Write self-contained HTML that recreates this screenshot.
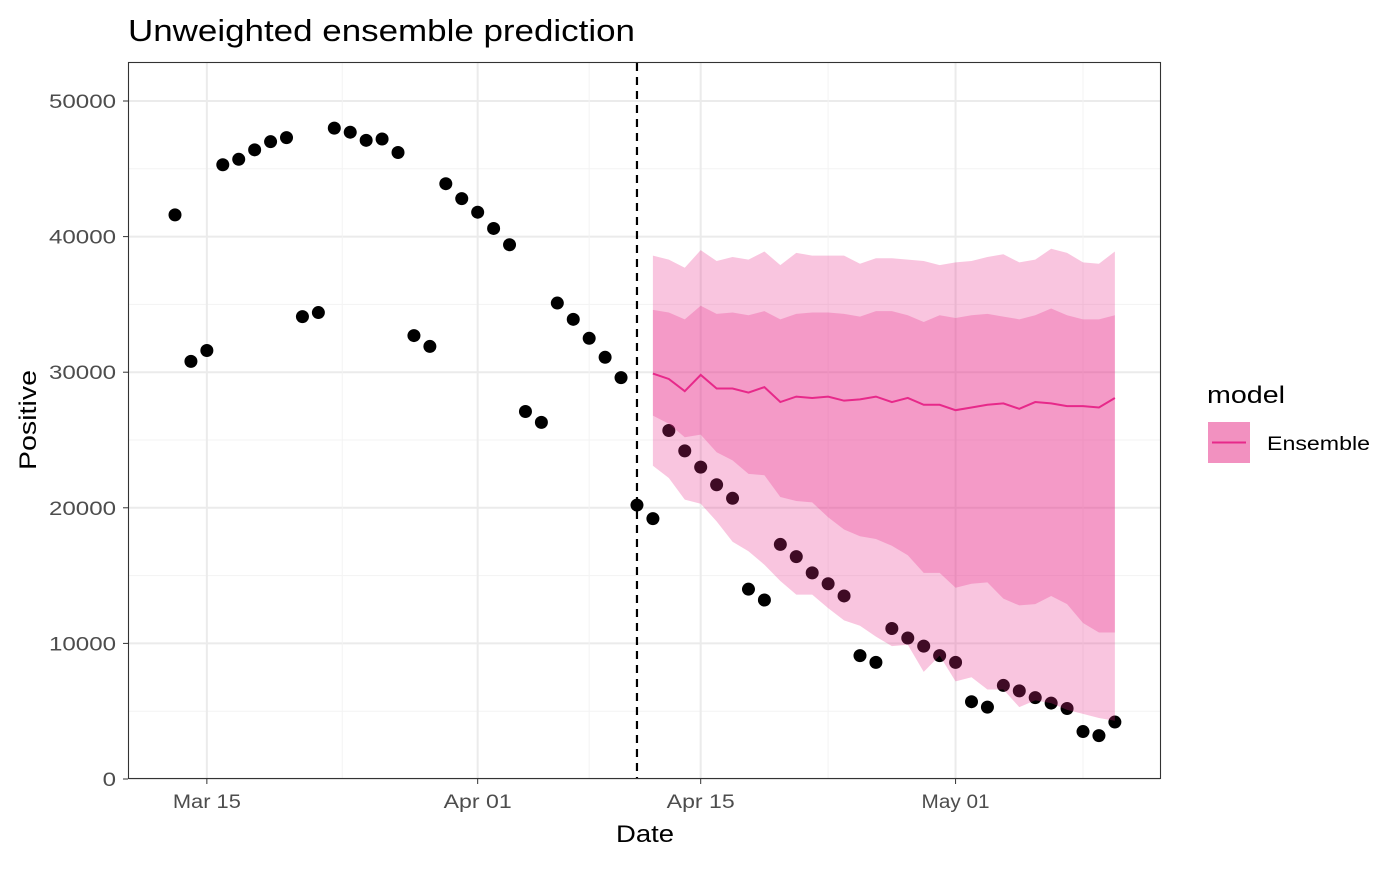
<!DOCTYPE html>
<html><head><meta charset="utf-8"><style>
body{margin:0;background:#fff;font-family:"Liberation Sans",sans-serif}
svg text{font-family:"Liberation Sans",sans-serif}
</style></head><body>
<svg id="c" width="1400" height="865" viewBox="0 0 1400 865" xmlns="http://www.w3.org/2000/svg">
<rect width="1400" height="865" fill="#fff"/>
<text x="128" y="41" font-size="31" textLength="507" lengthAdjust="spacingAndGlyphs" fill="#000">Unweighted ensemble prediction</text>
<g id="grid"></g>
<g id="pts"></g>
<g id="bands"></g>
<rect x="128.5" y="62.5" width="1032" height="716" fill="none" stroke="#333" stroke-width="1.1"/>
<g id="axes"></g>
<text x="616" y="842" font-size="24" textLength="58" lengthAdjust="spacingAndGlyphs">Date</text>
<text transform="translate(36,470) rotate(-90)" font-size="24" textLength="100" lengthAdjust="spacingAndGlyphs">Positive</text>
<g>
<text x="1207" y="403" font-size="24" textLength="78" lengthAdjust="spacingAndGlyphs">model</text>
<rect x="1208" y="422" width="42" height="41" fill="#f291c0"/>
<line x1="1212" y1="442.5" x2="1246" y2="442.5" stroke="#e7298a" stroke-width="2"/>
<text x="1267" y="450" font-size="19" textLength="103" lengthAdjust="spacingAndGlyphs">Ensemble</text>
</g>
</svg>
<script>
const obsValues=[41600,30800,31600,45300,45700,46400,47000,47300,34100,34400,48000,47700,47100,47200,46200,32700,31900,43900,42800,41800,40600,39400,27100,26300,35100,33900,32500,31100,29600,20200,19200,25700,24200,23000,21700,20700,14000,13200,17300,16400,15200,14400,13500,9100,8600,11100,10400,9800,9100,8600,5700,5300,6900,6500,6000,5600,5200,3500,3200,4200];
const fcStart=30;
const median=[29900,29500,28600,29800,28800,28800,28500,28900,27800,28200,28100,28200,27900,28000,28200,27800,28100,27600,27600,27200,27400,27600,27700,27300,27800,27700,27500,27500,27400,28100];
const outerUpper=[38600,38300,37700,39000,38200,38500,38300,38900,37900,38800,38600,38600,38600,38000,38400,38400,38300,38200,37900,38100,38200,38500,38700,38100,38300,39100,38800,38100,38000,38900];
const innerUpper=[34600,34400,33900,34900,34300,34400,34200,34500,33900,34300,34400,34400,34300,34100,34500,34500,34200,33700,34200,34000,34200,34300,34100,33900,34200,34700,34200,33900,33900,34200];
const innerLower=[26800,26200,25200,25400,24100,23500,22500,22400,20800,20500,20400,19300,18400,17900,17700,17200,16500,15200,15200,14100,14400,14500,13300,12800,12900,13500,12900,11500,10800,10800];
const outerLower=[23100,22200,20600,20300,19000,17500,16800,15800,14600,13600,13600,12600,11700,11300,10500,9800,9900,7900,9100,7200,7500,6600,6600,5300,5800,5600,5100,4800,4500,4300];
const yTicks=[0,10000,20000,30000,40000,50000];
const xTickDays=[2,19,33,49];
const xTickLabels=["Mar 15","Apr 01","Apr 15","May 01"];
const cutoffDay=29;

const NS="http://www.w3.org/2000/svg";
const X=d=>175+d*15.93;
const Y=v=>779-v*0.01356;
function mk(t,a,p){const e=document.createElementNS(NS,t);for(const k in a)e.setAttribute(k,a[k]);p.appendChild(e);return e;}
const grid=document.getElementById('grid'),axes=document.getElementById('axes');
for(let i=0;i<yTicks.length;i++){
  const g=mk('line',{x1:129,x2:1160,y1:Y(yTicks[i]),y2:Y(yTicks[i]),stroke:'#ebebeb','stroke-width':2},grid);
  
  
  if(i<yTicks.length-1){const m=mk('line',{x1:129,x2:1160,y1:Y(yTicks[i]+5000),y2:Y(yTicks[i]+5000),stroke:'#f3f3f3','stroke-width':1},grid);
  
  }
  mk('line',{x1:123,x2:128,y1:Y(yTicks[i]),y2:Y(yTicks[i]),stroke:'#333'},axes);
  const s=String(yTicks[i]);
  const t=mk('text',{x:116,y:Y(yTicks[i])+7,'font-size':19,fill:'#4d4d4d','text-anchor':'end',textLength:s.length*13.4,lengthAdjust:'spacingAndGlyphs'},axes);
  t.textContent=s;
  
  
}
for(let i=0;i<xTickDays.length;i++){
  const x=X(xTickDays[i]);
  const g=mk('line',{x1:x,x2:x,y1:63,y2:778,stroke:'#ebebeb','stroke-width':2},grid);
  
  
  const nx=i<xTickDays.length-1?(x+X(xTickDays[i+1]))/2:x+(x-X(xTickDays[i-1]))/2;
  const m=mk('line',{x1:nx,x2:nx,y1:63,y2:778,stroke:'#f3f3f3','stroke-width':1},grid);
  
  
  mk('line',{x1:x,x2:x,y1:779,y2:784,stroke:'#333'},axes);
  const t=mk('text',{x:x-34,y:808,'font-size':19,fill:'#4d4d4d',textLength:68,lengthAdjust:'spacingAndGlyphs'},axes);
  t.textContent=xTickLabels[i];
  
  
}
const pts=document.getElementById('pts');
obsValues.forEach((v,i)=>{const c=mk('circle',{cx:X(i),cy:Y(v),r:6.5,fill:'#000'},pts);
  
  });
const bands=document.getElementById('bands');
function band(up,lo,name){
  let d='';up.forEach((v,i)=>d+=(i?'L':'M')+X(fcStart+i)+','+Y(v));
  for(let i=lo.length-1;i>=0;i--)d+='L'+X(fcStart+i)+','+Y(lo[i]);
  const p=mk('path',{d:d+'Z',fill:'#e7298a','fill-opacity':0.27},bands);
  
  
}
band(outerUpper,outerLower,'outer-interval-band');
band(innerUpper,innerLower,'inner-interval-band');
let d='';median.forEach((v,i)=>d+=(i?'L':'M')+X(fcStart+i)+','+Y(v));
const ln=mk('path',{d:d,fill:'none',stroke:'#e7298a','stroke-width':2},bands);


const cx=X(cutoffDay);
const cl=mk('line',{x1:cx,x2:cx,y1:63,y2:778,stroke:'#000','stroke-width':2.2,'stroke-dasharray':'8,6'},bands);


</script>
</body></html>
